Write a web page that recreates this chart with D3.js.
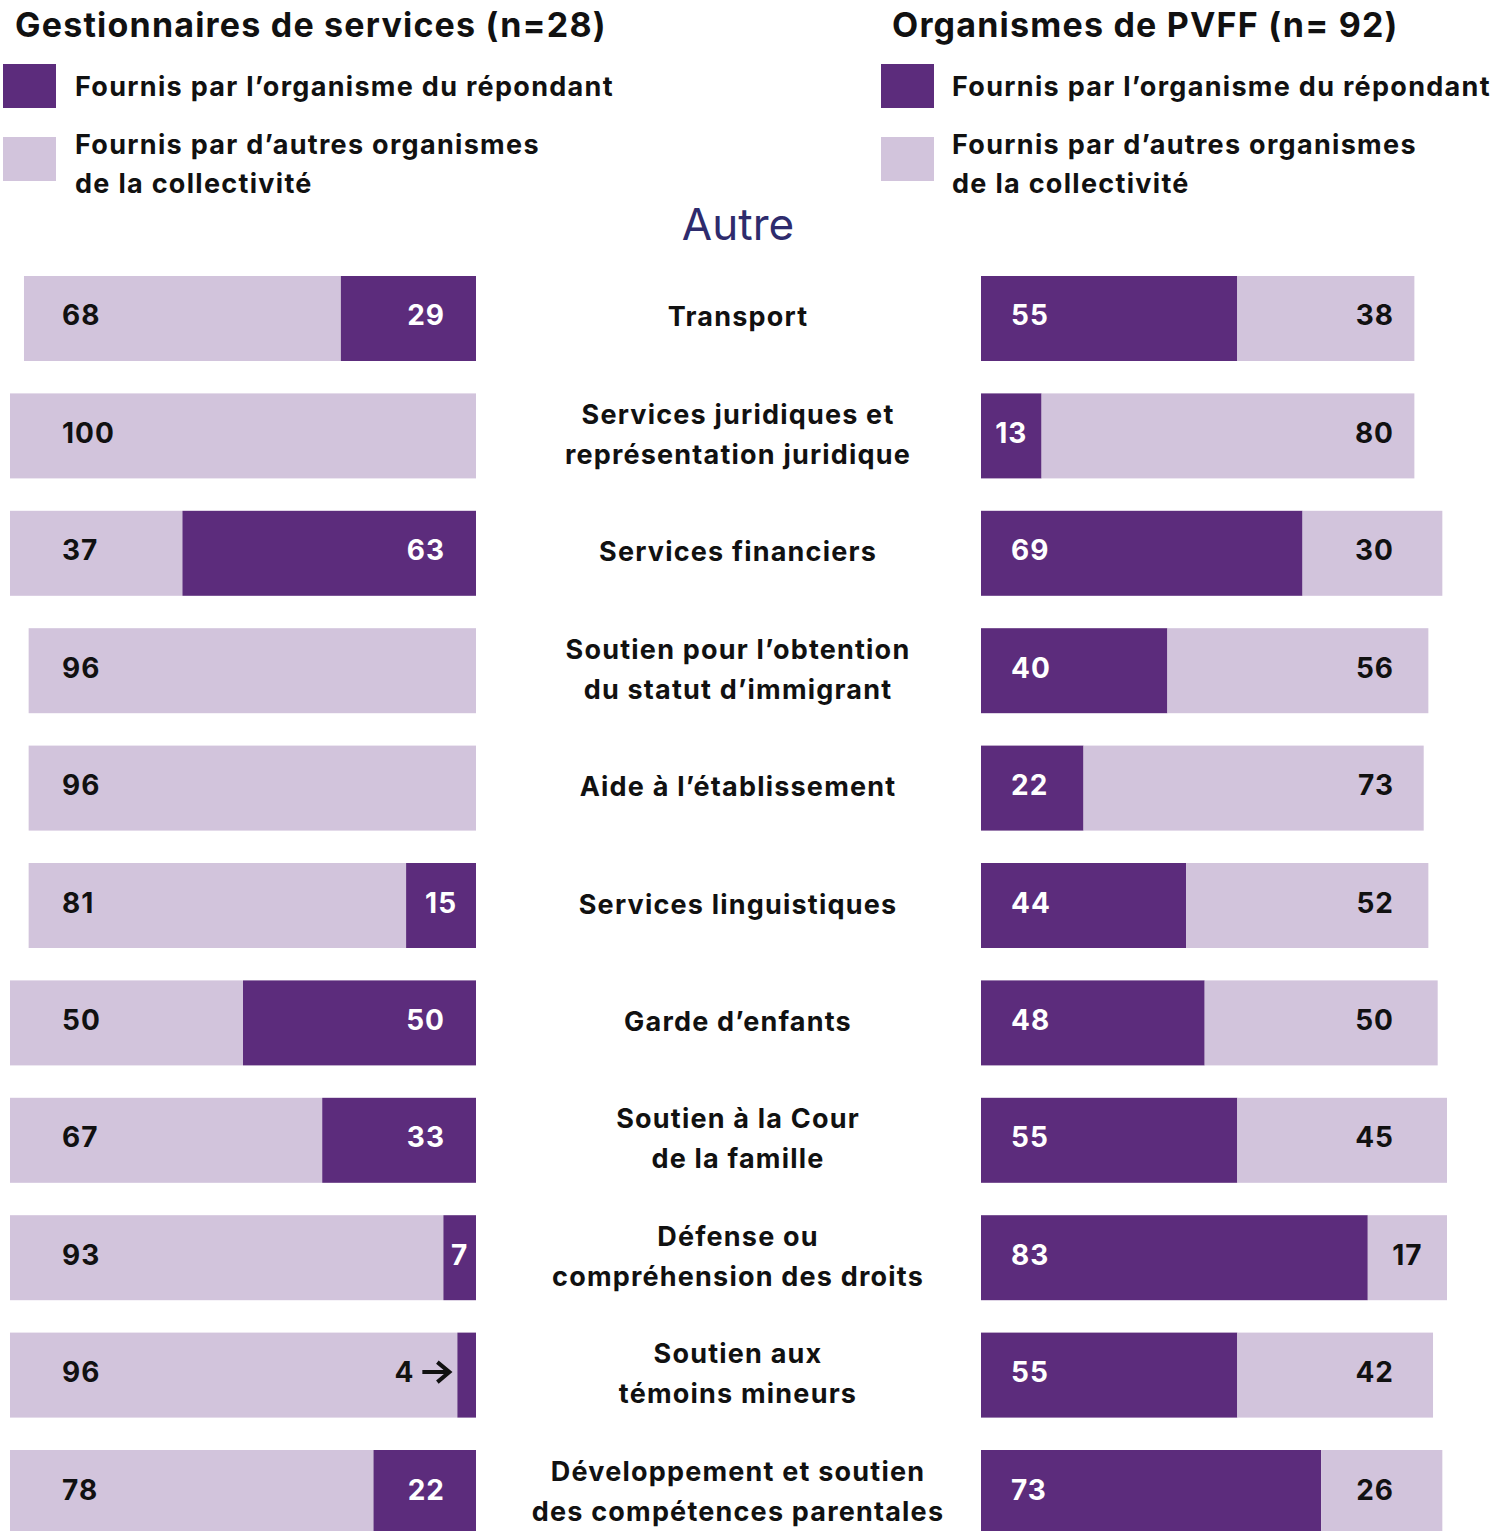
<!DOCTYPE html>
<html lang="fr">
<head>
<meta charset="utf-8">
<title>Autre — services fournis</title>
<script src="https://cdn.jsdelivr.net/npm/d3@7"></script>
<style>
  html, body { margin: 0; padding: 0; background: #ffffff; }
  svg { display: block; }
  text { font-family: "Inter", "Lato", sans-serif; }
</style>
</head>
<body>
<div id="chart"></div>
<script>
// Service categories (centre column), each may span several lines
const categories = [
  ["Transport"],
  ["Services juridiques et", "représentation juridique"],
  ["Services financiers"],
  ["Soutien pour l’obtention", "du statut d’immigrant"],
  ["Aide à l’établissement"],
  ["Services linguistiques"],
  ["Garde d’enfants"],
  ["Soutien à la Cour", "de la famille"],
  ["Défense ou", "compréhension des droits"],
  ["Soutien aux", "témoins mineurs"],
  ["Développement et soutien", "des compétences parentales"]
];

// Gestionnaires de services (n=28), in %
const gestOwn   = [29, 0, 63, 0, 0, 15, 50, 33, 7, 4, 22];
const gestOther = [68, 100, 37, 96, 96, 81, 50, 67, 93, 96, 78];

// Organismes de PVFF (n=92), in %
const pvffOwn   = [55, 13, 69, 40, 22, 44, 48, 55, 83, 55, 73];
const pvffOther = [38, 80, 30, 56, 73, 52, 50, 45, 17, 42, 26];

const panelTitles = ["Gestionnaires de services (n=28)", "Organismes de PVFF (n= 92)"];
const legendLabels = [["Fournis par l’organisme du répondant"],
                      ["Fournis par d’autres organismes", "de la collectivité"]];
const sectionTitle = "Autre";

const W = 1508, H = 1531;
const DARK = "#5c2c7c", LIGHT = "#d2c4dc", INK = "#111111", NAVY = "#2e2b6d";

const svg = d3.select("#chart").append("svg")
  .attr("width", W).attr("height", H);

// Shared scales
const rows = d3.range(categories.length);
const y = d3.scaleBand().domain(rows).range([276, 1535]).paddingInner(0.276).paddingOuter(0);
const w = d3.scaleLinear().domain([0, 100]).range([0, 466]);

const leftEnd = 476;     // left panel bars grow leftwards from here
const rightStart = 981;  // right panel bars grow rightwards from here
const centreX = 738;

// Titles and legends
const panels = [{x: 15, sq: 3, tx: 75}, {x: 892, sq: 881, tx: 952}];
panels.forEach((p, i) => {
  svg.append("text").attr("x", p.x).attr("y", 37)
    .attr("font-size", 34).attr("font-weight", 700).attr("fill", INK)
    .attr("letter-spacing", 1.2)
    .text(panelTitles[i]);
  [DARK, LIGHT].forEach((c, k) => {
    svg.append("rect").attr("x", p.sq).attr("y", k === 0 ? 64 : 137)
      .attr("width", 53).attr("height", 44).attr("fill", c);
    const t = svg.append("text").attr("x", p.tx).attr("y", k === 0 ? 96 : 154)
      .attr("font-size", 27).attr("font-weight", 700).attr("fill", INK)
      .attr("letter-spacing", 1.3);
    legendLabels[k].forEach((line, j) => {
      t.append("tspan").attr("x", p.tx).attr("dy", j === 0 ? 0 : 39).text(line);
    });
  });
});

svg.append("text").attr("x", centreX).attr("y", 240)
  .attr("text-anchor", "middle").attr("font-size", 44).attr("font-weight", 400)
  .attr("font-family", "Lato, sans-serif")
  .attr("fill", NAVY).text(sectionTitle);

// Category labels
const cat = svg.append("g").selectAll("text").data(categories).join("text")
  .attr("text-anchor", "middle").attr("font-size", 27).attr("font-weight", 700)
  .attr("fill", INK).attr("letter-spacing", 1.2)
  .attr("transform", (d, i) => `translate(${centreX},${y(i) + y.bandwidth() / 2})`);
cat.each(function(lines) {
  const n = lines.length;
  d3.select(this).selectAll("tspan").data(lines).join("tspan")
    .attr("x", 0)
    .attr("y", (l, j) => (j - (n - 1) / 2) * 40 + 8)
    .text(l => l);
});

const labelY = i => y(i) + y.bandwidth() / 2 + 7;
const NUM = 28;

function numLabel(g, x, yy, anchor, fill, value) {
  g.append("text").attr("x", x).attr("y", yy).attr("text-anchor", anchor)
    .attr("font-size", NUM).attr("font-weight", 700).attr("letter-spacing", 1)
    .attr("fill", fill).text(value);
}

// Left panel: other organisations (light) on the left, respondent (dark) on the right
const gL = svg.append("g");
rows.forEach(i => {
  const own = gestOwn[i], other = gestOther[i];
  gL.append("rect").attr("x", leftEnd - w(own + other)).attr("y", y(i))
    .attr("width", w(other)).attr("height", y.bandwidth()).attr("fill", LIGHT);
  if (own > 0) {
    gL.append("rect").attr("x", leftEnd - w(own)).attr("y", y(i))
      .attr("width", w(own)).attr("height", y.bandwidth()).attr("fill", DARK);
  }
  numLabel(gL, 62, labelY(i), "start", INK, other);
  if (own > 0) {
    const segW = w(own);
    if (segW < 30) {
      // Too narrow for its value: label sits outside with an arrow
      const ax1 = leftEnd - segW - 8, ax0 = ax1 - 27, ay = labelY(i) - 10;
      gL.append("path")
        .attr("d", `M${ax0},${ay}H${ax1 - 2}M${ax1 - 12},${ay - 10}L${ax1},${ay}L${ax1 - 12},${ay + 10}`)
        .attr("fill", "none").attr("stroke", INK).attr("stroke-width", 4)
        .attr("stroke-linejoin", "miter").attr("stroke-linecap", "butt");
      numLabel(gL, ax0 - 8, labelY(i), "end", INK, own);
    } else {
      const centred = segW < 90;
      numLabel(gL, centred ? leftEnd - segW / 2 : 445, labelY(i),
               centred ? "middle" : "end", "#ffffff", own);
    }
  }
});

// Right panel: respondent (dark) on the left, other organisations (light) on the right
const gR = svg.append("g");
rows.forEach(i => {
  const own = pvffOwn[i], other = pvffOther[i];
  gR.append("rect").attr("x", rightStart).attr("y", y(i))
    .attr("width", w(own)).attr("height", y.bandwidth()).attr("fill", DARK);
  gR.append("rect").attr("x", rightStart + w(own)).attr("y", y(i))
    .attr("width", w(other)).attr("height", y.bandwidth()).attr("fill", LIGHT);
  const ownW = w(own), otherW = w(other);
  const ownCentred = ownW < 90;
  numLabel(gR, ownCentred ? rightStart + ownW / 2 : 1011, labelY(i),
           ownCentred ? "middle" : "start", "#ffffff", own);
  const otherCentred = otherW < 90;
  numLabel(gR, otherCentred ? rightStart + ownW + otherW / 2 : 1394, labelY(i),
           otherCentred ? "middle" : "end", INK, other);
});
</script>
</body>
</html>
